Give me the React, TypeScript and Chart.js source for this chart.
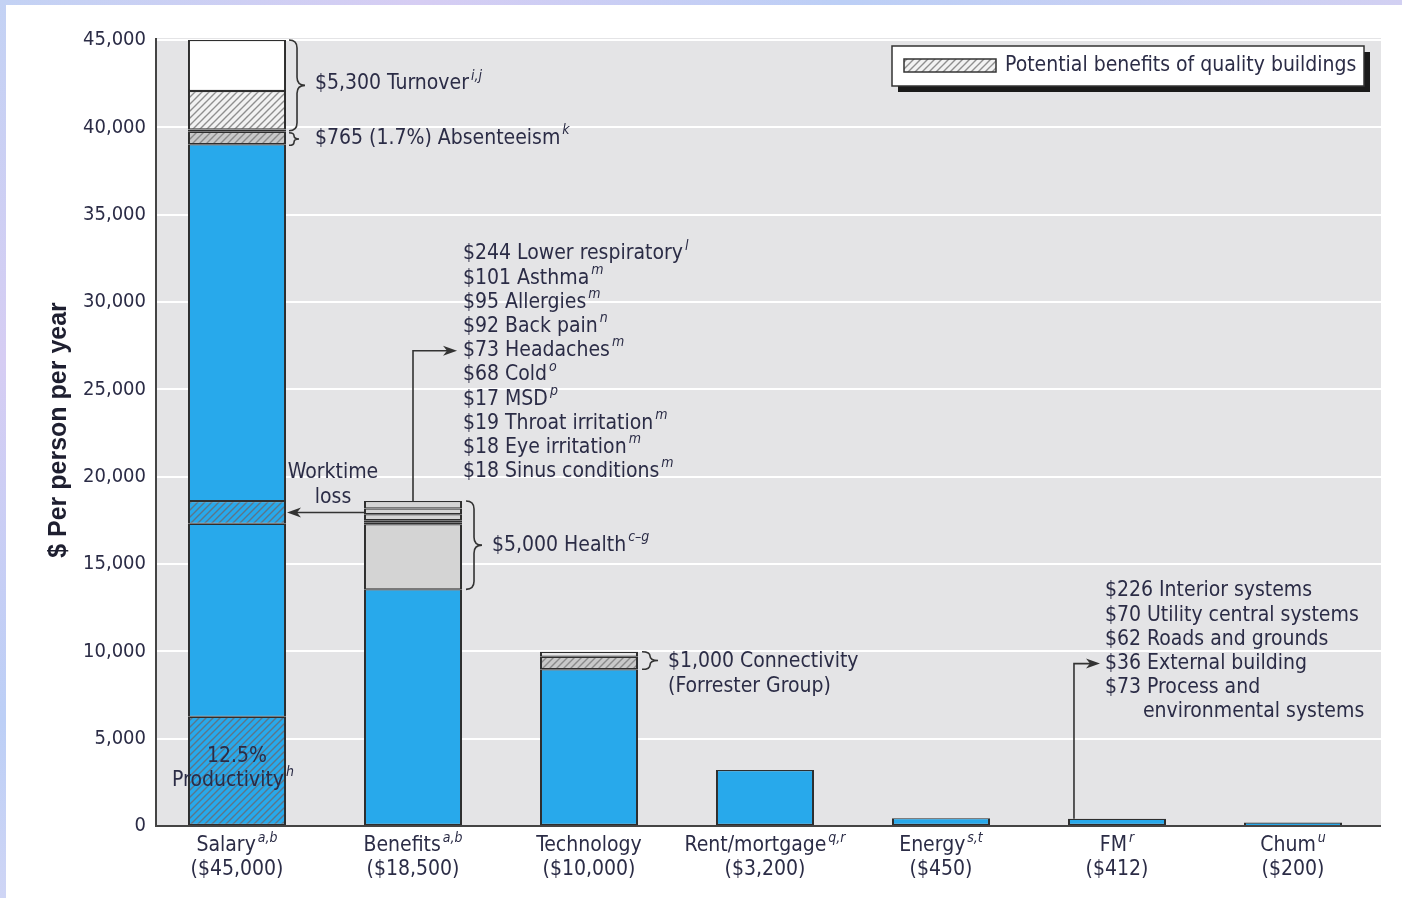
import React, { useEffect, useRef } from "react";
import { Chart, registerables } from "chart.js";
Chart.register(...registerables);

const categories = ["Salary", "Benefits", "Technology", "Rent/mortgage", "Energy", "FM", "Chum"];
const categorySups = ["a,b", "a,b", "", "q,r", "s,t", "r", "u"];
const categoryTotals = ["($45,000)", "($18,500)", "($10,000)", "($3,200)", "($450)", "($412)", "($200)"];

// stacked segments, bottom to top
const salarySegments = [6250, 11050, 1300, 20430, 720, 130, 2200, 2920];
const salaryKinds = ["blueHatch", "blue", "blueHatch", "blue", "greyHatch", "white", "lightHatch", "white"];
const benefitsSegments = [13550, 3720, 120, 120, 340, 330, 430];
const benefitsKinds = ["blue", "grey", "grey", "grey", "grey", "grey", "grey"];
const technologySegments = [8970, 720, 290];
const technologyKinds = ["blue", "greyHatch", "light"];
const otherBars = [3200, 450, 412, 200]; // Rent/mortgage, Energy, FM, Chum

const yMax = 45000;
const yStep = 5000;

const healthItems: [string, string][] = [
  ["$244 Lower respiratory", "l"],
  ["$101 Asthma", "m"],
  ["$95 Allergies", "m"],
  ["$92 Back pain", "n"],
  ["$73 Headaches", "m"],
  ["$68 Cold", "o"],
  ["$17 MSD", "p"],
  ["$19 Throat irritation", "m"],
  ["$18 Eye irritation", "m"],
  ["$18 Sinus conditions", "m"],
];
const fmItems = [
  "$226 Interior systems",
  "$70 Utility central systems",
  "$62 Roads and grounds",
  "$36 External building",
  "$73 Process and",
];
const fmItemLast = "environmental systems";

const FONT = '"Liberation Sans Narrow", "Arial Narrow", "DejaVu Sans Condensed", sans-serif';
const TEXT = "#2b2c46";
const BLUE = "#28a9eb";
const EDGE = "#2e2e2e";

function makeHatch(bg: string, line: string, period = 7, lw = 1.4) {
  const c = document.createElement("canvas");
  c.width = period;
  c.height = period;
  const g = c.getContext("2d")!;
  g.fillStyle = bg;
  g.fillRect(0, 0, period, period);
  g.strokeStyle = line;
  g.lineWidth = lw;
  g.beginPath();
  g.moveTo(-1, period + 1);
  g.lineTo(period + 1, -1);
  g.moveTo(-1, 1);
  g.lineTo(1, -1);
  g.moveTo(period - 1, period + 1);
  g.lineTo(period + 1, period - 1);
  g.stroke();
  return g.createPattern(c, "repeat")!;
}

export default function App() {
  const ref = useRef<HTMLCanvasElement>(null);
  useEffect(() => {
    const canvas = ref.current!;
    const fills: Record<string, any> = {
      blue: BLUE,
      blueHatch: makeHatch(BLUE, "#5d7588"),
      greyHatch: makeHatch("#c9c9c9", "#8a8a8a"),
      lightHatch: makeHatch("#f2f2f2", "#8f8f8f"),
      white: "#ffffff",
      grey: "#d4d4d4",
      light: "#e6e6e6",
    };
    const stacks: { v: number[]; k: string[] }[] = [
      { v: salarySegments, k: salaryKinds },
      { v: benefitsSegments, k: benefitsKinds },
      { v: technologySegments, k: technologyKinds },
      ...otherBars.map((v) => ({ v: [v], k: ["blue"] })),
    ];
    const layers = Math.max(...stacks.map((s) => s.v.length));
    const datasets = [];
    for (let i = 0; i < layers; i++) {
      datasets.push({
        data: stacks.map((s) => (i < s.v.length ? s.v[i] : null)),
        backgroundColor: stacks.map((s) => fills[s.k[i]] || "rgba(0,0,0,0)"),
        borderColor: EDGE,
        borderWidth: (c: any) =>
          c.raw !== null && c.raw < 300 && c.datasetIndex === 0
            ? { left: 2, right: 2, top: 1.2, bottom: 0 }
            : { left: 2, right: 2, top: 1.2, bottom: 1.2 },
        borderSkipped: false,
        barPercentage: 0.557,
        categoryPercentage: 1,
      });
    }

    const font = (s: number, style = "") => `${style} ${s}px ${FONT}`;

    const drawRich = (ctx: CanvasRenderingContext2D, x: number, y: number, main: string, sup: string, align: string, size = 21) => {
      ctx.font = font(size);
      const w1 = ctx.measureText(main).width;
      ctx.font = font(14, "italic");
      const w2 = sup ? ctx.measureText(sup).width + 2 : 0;
      const sx = align === "center" ? x - (w1 + w2) / 2 : x;
      ctx.textAlign = "left";
      ctx.textBaseline = "middle";
      ctx.fillStyle = TEXT;
      ctx.font = font(size);
      ctx.fillText(main, sx, y);
      if (sup) {
        ctx.font = font(14, "italic");
        ctx.fillText(sup, sx + w1 + 2, y - 8);
      }
    };

    const brace = (ctx: CanvasRenderingContext2D, x: number, top: number, bottom: number, w: number) => {
      const mid = (top + bottom) / 2;
      const r = Math.min(w / 2, (bottom - top) / 4);
      const xm = x + w / 2;
      ctx.beginPath();
      ctx.moveTo(x, top);
      ctx.quadraticCurveTo(xm, top, xm, top + r);
      ctx.lineTo(xm, mid - r);
      ctx.quadraticCurveTo(xm, mid, x + w, mid);
      ctx.quadraticCurveTo(xm, mid, xm, mid + r);
      ctx.lineTo(xm, bottom - r);
      ctx.quadraticCurveTo(xm, bottom, x, bottom);
      ctx.stroke();
    };

    const arrowHead = (ctx: CanvasRenderingContext2D, x: number, y: number, dir: number) => {
      ctx.beginPath();
      ctx.moveTo(x, y);
      ctx.lineTo(x - dir * 14, y - 5);
      ctx.lineTo(x - dir * 10, y);
      ctx.lineTo(x - dir * 14, y + 5);
      ctx.closePath();
      ctx.fill();
    };

    const bgPlugin = {
      id: "bg",
      beforeDraw(chart: any) {
        const { ctx, chartArea } = chart;
        ctx.save();
        ctx.fillStyle = "#ffffff";
        ctx.fillRect(0, 0, chart.width, chart.height);
        ctx.fillStyle = "#e4e4e6";
        ctx.fillRect(chartArea.left + 7, chartArea.top - 2, chartArea.right - chartArea.left - 7, chartArea.bottom - chartArea.top + 2);
        ctx.restore();
      },
    };

    const annPlugin = {
      id: "ann",
      afterDatasetsDraw(chart: any) {
        const { ctx, chartArea } = chart;
        const xs = chart.scales.x;
        const ys = chart.scales.y;
        const Y = (v: number) => ys.getPixelForValue(v);
        const el = (ds: number, c: number) => chart.getDatasetMeta(ds).data[c];
        const half = el(0, 0).width / 2;
        const cx = (c: number) => xs.getPixelForValue(c);
        ctx.save();
        // axes lines
        ctx.strokeStyle = "#444";
        ctx.lineWidth = 2;
        ctx.beginPath();
        ctx.moveTo(chartArea.left + 7, chartArea.top - 2);
        ctx.lineTo(chartArea.left + 7, chartArea.bottom);
        ctx.lineTo(chartArea.right, chartArea.bottom);
        ctx.stroke();

        // x labels
        categories.forEach((c, i) => {
          drawRich(ctx, cx(i), chartArea.bottom + 20, c, categorySups[i], "center");
          drawRich(ctx, cx(i), chartArea.bottom + 44, categoryTotals[i], "", "center");
        });

        // y title
        ctx.save();
        ctx.translate(59, 430);
        ctx.rotate(-Math.PI / 2);
        ctx.font = 'bold 25px "Liberation Sans", Arial, sans-serif';
        ctx.fillStyle = "#1e1f30";
        ctx.textAlign = "center";
        ctx.textBaseline = "middle";
        ctx.fillText("$ Per person per year", 0, 0);
        ctx.restore();

        ctx.strokeStyle = "#333";
        ctx.fillStyle = "#333";
        ctx.lineWidth = 1.6;

        // salary annotations
        const sR = cx(0) + half;
        const salaryTop = salarySegments.reduce((a, b) => a + b, 0);
        const cum = (arr: number[], n: number) => arr.slice(0, n).reduce((a, b) => a + b, 0);
        brace(ctx, sR + 3, Y(salaryTop), Y(cum(salarySegments, 5)) - 1, 16);
        brace(ctx, sR + 3, Y(cum(salarySegments, 5)) + 1, Y(cum(salarySegments, 4)) + 1, 10);
        drawRich(ctx, sR + 29, Y(salaryTop) + 44, "$5,300 Turnover", "i,j", "left");
        drawRich(ctx, sR + 29, Y(cum(salarySegments, 5)) + 7, "$765 (1.7%) Absenteeism", "k", "left");

        // productivity
        ctx.fillStyle = TEXT;
        drawRich(ctx, cx(0), Y(salarySegments[0]) + 40, "12.5%", "", "center");
        drawRich(ctx, cx(0) - 4, Y(salarySegments[0]) + 64, "Productivity", "h", "center");

        // worktime loss arrow
        const bL = cx(1) - half;
        const wY = Y(cum(salarySegments, 2) + salarySegments[2] / 2);
        ctx.fillStyle = "#333";
        ctx.beginPath();
        ctx.moveTo(bL, wY);
        ctx.lineTo(sR + 6, wY);
        ctx.stroke();
        arrowHead(ctx, sR + 1, wY, -1);
        drawRich(ctx, (sR + bL) / 2 + 8, Y(18600) - 29, "Worktime", "", "center");
        drawRich(ctx, (sR + bL) / 2 + 8, Y(18600) - 4, "loss", "", "center");

        // health list & connector
        const bR = cx(1) + half;
        const benefitsTop = benefitsSegments.reduce((a, b) => a + b, 0);
        const lineH = 24.2;
        const listTop = 254;
        const listX = bR + 1;
        healthItems.forEach(([t, s], i) => drawRich(ctx, listX, listTop + i * lineH, t, s, "left"));
        const hY = listTop + 4 * lineH;
        ctx.fillStyle = "#333";
        ctx.beginPath();
        ctx.moveTo(cx(1), Y(benefitsTop));
        ctx.lineTo(cx(1), hY);
        ctx.lineTo(listX - 12, hY);
        ctx.stroke();
        arrowHead(ctx, listX - 6, hY, 1);
        brace(ctx, bR + 4, Y(benefitsTop), Y(benefitsSegments[0]), 16);
        drawRich(ctx, bR + 30, (Y(benefitsTop) + Y(benefitsSegments[0])) / 2, "$5,000 Health", "c\u2013g", "left");

        // technology
        const tR = cx(2) + half;
        const techTop = technologySegments.reduce((a, b) => a + b, 0);
        brace(ctx, tR + 4, Y(techTop), Y(technologySegments[0]), 16);
        drawRich(ctx, tR + 30, Y(techTop) + 10, "$1,000 Connectivity", "", "left");
        drawRich(ctx, tR + 30, Y(techTop) + 35, "(Forrester Group)", "", "left");

        // FM list & connector
        const fL = cx(5) - half;
        const fmX = fL + 37;
        const fmTop = 591;
        fmItems.forEach((t, i) => drawRich(ctx, fmX, fmTop + i * lineH, t, "", "left"));
        drawRich(ctx, fmX + 38, fmTop + 5 * lineH, fmItemLast, "", "left");
        const fY = fmTop + 3 * lineH;
        ctx.fillStyle = "#333";
        ctx.beginPath();
        ctx.moveTo(fL + 6, Y(otherBars[2]));
        ctx.lineTo(fL + 6, fY);
        ctx.lineTo(fmX - 12, fY);
        ctx.stroke();
        arrowHead(ctx, fmX - 5, fY, 1);

        // legend
        const lx = 892, ly = 46, lw = 472, lh = 40;
        ctx.fillStyle = "#1a1a1a";
        ctx.fillRect(lx + 6, ly + 6, lw, lh);
        ctx.fillStyle = "#ffffff";
        ctx.fillRect(lx, ly, lw, lh);
        ctx.lineWidth = 1.5;
        ctx.strokeStyle = "#333";
        ctx.strokeRect(lx, ly, lw, lh);
        ctx.fillStyle = fills.lightHatch;
        ctx.fillRect(lx + 12, ly + 13, 92, 13);
        ctx.strokeRect(lx + 12, ly + 13, 92, 13);
        drawRich(ctx, lx + 113, ly + 20, "Potential benefits of quality buildings", "", "left");
        ctx.restore();
      },
    };

    const chart = new Chart(canvas, {
      type: "bar",
      data: { labels: categories, datasets: datasets as any },
      plugins: [bgPlugin, annPlugin],
      options: {
        animation: false,
        responsive: false,
        maintainAspectRatio: false,
        layout: { padding: { top: 40, right: 21, left: 0, bottom: 0 } },
        plugins: { legend: { display: false }, tooltip: { enabled: false } },
        scales: {
          x: {
            stacked: true,
            grid: { display: false },
            border: { display: false },
            ticks: { display: false },
            afterFit: (s: any) => {
              s.height = 72;
            },
          },
          y: {
            stacked: true,
            min: 0,
            max: yMax,
            grid: { color: "#ffffff", lineWidth: 2, drawTicks: false },
            border: { display: false },
            ticks: {
              stepSize: yStep,
              padding: 3,
              color: TEXT,
              font: { size: 20, family: FONT },
              callback: (v: any) => Number(v).toLocaleString("en-US"),
            },
            afterFit: (s: any) => {
              s.width = 149;
            },
          },
        },
      },
    });
    return () => chart.destroy();
  }, []);

  const strip = "linear-gradient(90deg, #c3d2f4, #d6cdf3 30%, #bccff6 60%, #d2d0f2)";
  return (
    <div style={{ position: "fixed", left: 0, top: 0, width: 1402, height: 898, background: "#fff" }}>
      <canvas ref={ref} width={1402} height={898} style={{ display: "block", width: 1402, height: 898 }} />
      <div style={{ position: "absolute", left: 0, top: 0, width: 1402, height: 5, background: strip }} />
      <div style={{ position: "absolute", left: 0, top: 0, width: 6, height: 898, background: "linear-gradient(180deg, #c3d2f4, #d6cdf3 40%, #bccff6 80%, #cfd5f5)" }} />
    </div>
  );
}
